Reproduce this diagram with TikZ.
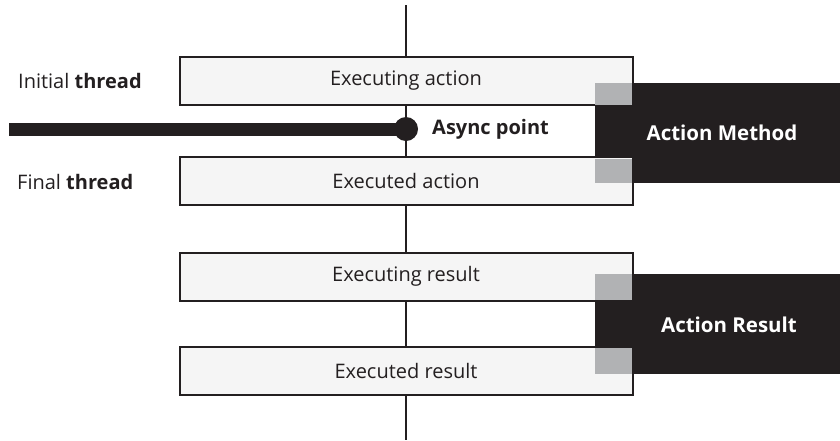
\documentclass[tikz,border=0pt]{standalone}
\usepackage{fontspec}
\setmainfont{Open Sans}
\definecolor{ink}{HTML}{231F20}
\definecolor{boxfill}{HTML}{F5F5F5}
\definecolor{tab}{HTML}{B1B2B4}
\begin{document}
\begin{tikzpicture}[x=1pt,y=-1pt,
  stagebox/.style={draw=ink,line width=2pt,fill=boxfill,minimum width=453pt,minimum height=48pt,inner sep=0pt,font=\fontsize{20}{23}\selectfont,text=ink},
  lbl/.style={font=\fontsize{20}{23}\selectfont,text=ink,inner sep=0pt},
  darklbl/.style={font=\fontsize{20.5}{23}\selectfont\bfseries,text=white,inner sep=0pt}]
\useasboundingbox (0,0) rectangle (840,440);
% dark blocks behind
\fill[ink] (595,83) rectangle (840,183);
\fill[ink] (595,274) rectangle (840,374);
% vertical line
\coordinate (top) at (406,5);
\coordinate (bot) at (406,440);
\draw[ink,line width=2pt] (top) -- (bot);
% boxes
\node[stagebox] (b1) at (406,81) {Executing action};
\node[stagebox] (b2) at (406,181) {Executed action};
\node[stagebox] (b3) at (406,276.5) {Executing result};
\node[stagebox] (b4) at (406,370.5) {Executed result};
% gray tabs
\fill[tab] (595,83) rectangle (632,105);
\fill[tab] (595,159) rectangle (632,183);
\fill[tab] (595,274) rectangle (632,300);
\fill[tab] (595,348) rectangle (632,374);
\draw[ink,line width=2pt] (632.5,57) -- (632.5,105);
\draw[ink,line width=2pt] (632.5,157) -- (632.5,205);
\draw[ink,line width=2pt] (632.5,253) -- (632.5,300);
\draw[ink,line width=2pt] (632.5,347) -- (632.5,394);
% async
\coordinate (tstart) at (9,129);
\node[circle,fill=ink,minimum size=24pt,inner sep=0pt] (ap) at (406,129) {};
\draw[ink,line width=13pt] (tstart) -- (ap.center);
\node[lbl,font=\fontsize{20}{23}\selectfont\bfseries,anchor=west] (apl) at (432,129) {Async point};
% side labels
\node[lbl,anchor=west] (init) at (18,81) {Initial \textbf{thread}};
\node[lbl,anchor=west] (fin) at (17,182) {Final \textbf{thread}};
\node[darklbl] (am) at (722,133) {Action Method};
\node[darklbl] (ar) at (729,325) {Action Result};
\end{tikzpicture}
\end{document}
